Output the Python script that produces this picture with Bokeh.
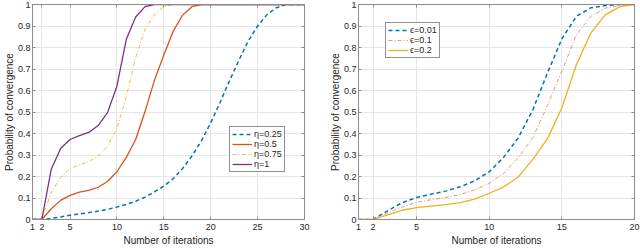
from bokeh.plotting import figure
from bokeh.layouts import row
from bokeh.models import FixedTicker, LinearAxis, Legend, LegendItem, Range1d
from bokeh.embed import file_html
from bokeh.resources import INLINE

# ---------------- data ----------------
iters_a = list(range(1, 31))
eta_025 = [0, 0, 0.005, 0.012, 0.02, 0.026, 0.032, 0.039, 0.047, 0.058,
           0.07, 0.085, 0.104, 0.128, 0.155, 0.19, 0.237, 0.295, 0.365, 0.45,
           0.545, 0.645, 0.74, 0.83, 0.9, 0.953, 0.985, 1, 1, 1]
eta_05 = [0, 0, 0.05, 0.089, 0.112, 0.127, 0.135, 0.15, 0.177, 0.222,
          0.289, 0.372, 0.502, 0.647, 0.765, 0.876, 0.95, 0.99, 1, 1,
          1, 1, 1, 1, 1, 1, 1, 1, 1, 1]
eta_075 = [0, 0, 0.127, 0.196, 0.237, 0.254, 0.269, 0.295, 0.341, 0.425,
           0.57, 0.754, 0.884, 0.953, 0.99, 1, 1, 1, 1, 1,
           1, 1, 1, 1, 1, 1, 1, 1, 1, 1]
eta_1 = [0, 0, 0.234, 0.33, 0.372, 0.39, 0.405, 0.437, 0.497, 0.62,
         0.838, 0.942, 0.99, 1, 1, 1, 1, 1, 1, 1,
         1, 1, 1, 1, 1, 1, 1, 1, 1, 1]
xticks_a = [1, 2, 5, 10, 15, 20, 25, 30]
labels_a = ["η=0.25", "η=0.5", "η=0.75", "η=1"]

iters_b = list(range(1, 21))
eps_001 = [0, 0, 0.04, 0.078, 0.102, 0.118, 0.132, 0.152, 0.18, 0.222,
           0.29, 0.38, 0.51, 0.68, 0.84, 0.945, 0.985, 0.995, 1, 1]
eps_01 = [0, 0, 0.03, 0.058, 0.08, 0.092, 0.102, 0.116, 0.138, 0.168,
          0.215, 0.288, 0.38, 0.53, 0.69, 0.86, 0.945, 0.983, 0.995, 1]
eps_02 = [0, 0, 0.022, 0.043, 0.055, 0.062, 0.069, 0.078, 0.095, 0.122,
          0.152, 0.198, 0.28, 0.375, 0.52, 0.72, 0.868, 0.953, 0.99, 1]
xticks_b = [1, 2, 5, 10, 15, 20]
labels_b = ["ϵ=0.01", "ϵ=0.1", "ϵ=0.2"]

yticks = [0, 0.1, 0.2, 0.3, 0.4, 0.5, 0.6, 0.7, 0.8, 0.9, 1.0]
ytick_labels = ["0", "0.1", "0.2", "0.3", "0.4", "0.5", "0.6", "0.7", "0.8", "0.9", "1"]

x_label = "Number of iterations"
y_label = "Probability of convergence"

# ---------------- style ----------------
FONT = "Liberation Sans"
BLUE = "#0072BD"
ORANGE = "#D95319"
YELLOW = "#EDB120"
PURPLE = "#7E2F8E"
AX = "#8c8c8c"
TXT = "#262626"
GRID = "#e6e6e6"


def make_fig(width, xmax, xticks, min_left, min_right):
    p = figure(width=width, height=248, output_backend="svg", toolbar_location=None,
               x_range=Range1d(1, xmax), y_range=Range1d(0, 1),
               min_border_left=min_left, min_border_right=min_right,
               min_border_top=4, min_border_bottom=26)
    p.outline_line_color = AX
    p.outline_line_width = 1
    p.background_fill_color = "white"
    p.border_fill_color = "white"
    ylabels = {v: l for v, l in zip(yticks, ytick_labels)}
    p.xaxis.ticker = FixedTicker(ticks=xticks)
    p.yaxis.ticker = FixedTicker(ticks=yticks)
    p.yaxis.major_label_overrides = ylabels
    p.xaxis.axis_label = x_label
    p.yaxis.axis_label = y_label
    for ax in (p.xaxis[0], p.yaxis[0]):
        ax.axis_line_color = AX
        ax.major_tick_line_color = AX
        ax.major_tick_in = 3
        ax.major_tick_out = 0
        ax.minor_tick_line_color = None
        ax.major_label_text_font = FONT
        ax.major_label_text_font_size = "9px"
        ax.major_label_text_color = TXT
        ax.axis_label_text_font = FONT
        ax.axis_label_text_font_size = "10px"
        ax.axis_label_text_font_style = "normal"
        ax.axis_label_text_color = TXT
    p.xaxis.major_label_standoff = 4
    p.xaxis.axis_label_standoff = 2
    p.yaxis.major_label_standoff = 2
    p.yaxis.axis_label_standoff = 0
    # box ticks on top / right
    top = LinearAxis(ticker=FixedTicker(ticks=xticks),
                     major_label_overrides={t: "" for t in xticks})
    right = LinearAxis(ticker=FixedTicker(ticks=yticks),
                       major_label_overrides={t: "" for t in yticks})
    for ax in (top, right):
        ax.axis_line_color = AX
        ax.major_tick_line_color = AX
        ax.major_tick_in = 3
        ax.major_tick_out = 0
        ax.minor_tick_line_color = None
        ax.major_label_standoff = 0
        ax.major_label_text_font_size = "1px"
    p.add_layout(top, "above")
    p.add_layout(right, "right")
    p.grid.grid_line_color = GRID
    p.grid.grid_line_width = 1
    return p


# ---------------- left panel ----------------
pa = make_fig(320, 30, xticks_a, 28, 16)
ra1 = pa.line(iters_a, eta_025, line_color=BLUE, line_width=1.5, line_dash="4 3")
ra2 = pa.line(iters_a, eta_05, line_color=ORANGE, line_width=1.3)
ra3 = pa.line(iters_a, eta_075, line_color=YELLOW, line_width=1, line_dash="4 2 1 2",
              line_alpha=0.85)
ra4 = pa.line(iters_a, eta_1, line_color=PURPLE, line_width=1.3)
leg_a = Legend(items=[LegendItem(label=l, renderers=[r])
                      for l, r in zip(labels_a, [ra1, ra2, ra3, ra4])],
               location=(197, 47))
pa.add_layout(leg_a, "center")

# ---------------- right panel ----------------
pb = make_fig(320, 20, xticks_b, 38, 6)
rb1 = pb.line(iters_b, eps_001, line_color=BLUE, line_width=1.5, line_dash="4 3")
rb2 = pb.line(iters_b, eps_01, line_color=ORANGE, line_width=1, line_dash="4 2 1 2",
              line_alpha=0.6)
rb3 = pb.line(iters_b, eps_02, line_color=YELLOW, line_width=1.3)
leg_b = Legend(items=[LegendItem(label=l, renderers=[r])
                      for l, r in zip(labels_b, [rb1, rb2, rb3])],
               location=(27, 161))
pb.add_layout(leg_b, "center")

for leg in (leg_a, leg_b):
    leg.label_text_font = FONT
    leg.label_text_font_size = "9px"
    leg.label_text_color = TXT
    leg.border_line_color = TXT
    leg.border_line_width = 1
    leg.background_fill_color = "white"
    leg.background_fill_alpha = 1
    leg.glyph_width = 20
    leg.glyph_height = 10
    leg.label_height = 10
    leg.label_standoff = 2
    leg.spacing = 0
    leg.padding = 2
    leg.margin = 0

layout = row(pa, pb)
open("out.html", "w").write(file_html(layout, INLINE))
